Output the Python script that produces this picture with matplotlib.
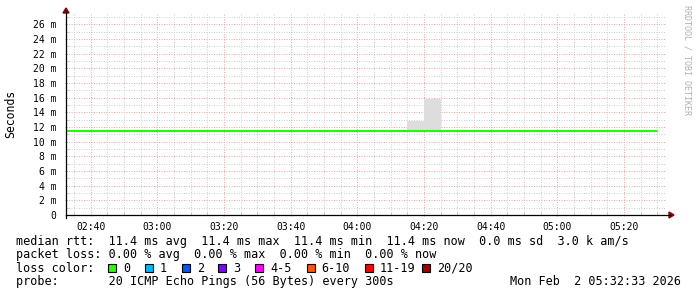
import matplotlib
matplotlib.use("Agg")
from matplotlib import pyplot as plt
from matplotlib.lines import Line2D
from matplotlib.patches import Polygon, Rectangle

# 5 minute steps (start of each step), last edge closes the final step
step_start = ["02:30", "02:35", "02:40", "02:45", "02:50", "02:55",
              "03:00", "03:05", "03:10", "03:15", "03:20", "03:25",
              "03:30", "03:35", "03:40", "03:45", "03:50", "03:55",
              "04:00", "04:05", "04:10", "04:15", "04:20", "04:25",
              "04:30", "04:35", "04:40", "04:45", "04:50", "04:55",
              "05:00", "05:05", "05:10", "05:15", "05:20", "05:25"]
step_end = "05:30"

# median rtt in ms
median = [11.4, 11.4, 11.4, 11.4, 11.4, 11.4,
          11.4, 11.4, 11.4, 11.4, 11.4, 11.4,
          11.4, 11.4, 11.4, 11.4, 11.4, 11.4,
          11.4, 11.4, 11.4, 11.4, 11.4, 11.4,
          11.4, 11.4, 11.4, 11.4, 11.4, 11.4,
          11.4, 11.4, 11.4, 11.4, 11.4, 11.4]
# smoke (max ping) in ms
smoke_hi = [11.4, 11.4, 11.4, 11.4, 11.4, 11.4,
            11.4, 11.4, 11.4, 11.4, 11.4, 11.4,
            11.4, 11.4, 11.4, 11.4, 11.4, 11.4,
            11.4, 11.4, 11.4, 12.76, 15.77, 11.4,
            11.4, 11.4, 11.4, 11.4, 11.4, 11.4,
            11.4, 11.4, 11.4, 11.4, 11.4, 11.4]

x_ticks = ["02:40", "03:00", "03:20", "03:40", "04:00", "04:20", "04:40", "05:00", "05:20"]
y_ticks = [0, 2, 4, 6, 8, 10, 12, 14, 16, 18, 20, 22, 24, 26]

loss_labels = ["0", "1", "2", "3", "4-5", "6-10", "11-19", "20/20"]
loss_colors = ["#26ff00", "#00b8ff", "#0059ff", "#7e00ff", "#ff00ff", "#ff5500", "#ff0000", "#a10000"]

rtt_line = "median rtt:  11.4 ms avg  11.4 ms max  11.4 ms min  11.4 ms now  0.0 ms sd  3.0 k am/s"
loss_line = "packet loss: 0.00 % avg  0.00 % max  0.00 % min  0.00 % now"
probe_line = "probe:       20 ICMP Echo Pings (56 Bytes) every 300s"
stamp = "Mon Feb  2 05:32:33 2026"

t_start = "02:32:33"
t_stop = "05:32:33"


def to_min(s):
    parts = [int(p) for p in s.split(":")]
    m = parts[0] * 60 + parts[1]
    if len(parts) > 2:
        m += parts[2] / 60
    return m


W, H = 697, 297
fig = plt.figure(figsize=(W / 100, H / 100), dpi=100)
fig.patch.set_facecolor("white")


def px(x, y):
    return (x / W, 1 - y / H)


mono = "DejaVu Sans Mono"
ymax = 27.5
ax = fig.add_axes([66 / W, (H - 215) / H, 600 / W, ymax * 7.33 / H])

edges = [to_min(s) for s in step_start] + [to_min(step_end)]
ax.stairs(smoke_hi, edges, baseline=median, fill=True, color="#dddddd", zorder=2)
ax.stairs(median, edges, baseline=None, color="#20ff00", linewidth=1.5, zorder=3)

ax.set_xlim(to_min(t_start), to_min(t_stop))
ax.set_ylim(0, ymax)

ax.set_xticks([to_min(s) for s in x_ticks])
ax.set_xticklabels(x_ticks, fontname=mono, fontsize=7)
ax.set_xticks(range(to_min("02:35"), to_min("05:35"), 5), minor=True)
ax.set_yticks(y_ticks)
ax.set_yticklabels([f"{v} m" if v else "0" for v in y_ticks], fontname=mono, fontsize=7)
ax.set_yticks(range(1, 28), minor=True)

ax.grid(which="minor", color="#d0d0d0", linestyle=(0, (1, 1.5)), linewidth=0.72, zorder=0)
ax.grid(which="major", color="#f4a8a8", linestyle=(0, (1, 1.5)), linewidth=0.72, zorder=1)
ax.set_axisbelow(True)
ax.tick_params(which="major", length=2, direction="inout", color="#f0a0a0", pad=4)
ax.tick_params(which="minor", length=2, direction="in", color="#c8c8c8")
ax.tick_params(axis="y", which="major", pad=6)

for side in ax.spines:
    ax.spines[side].set_visible(False)

# axes with arrows like rrdtool
fig.add_artist(Line2D([px(66, 215)[0], px(670, 215)[0]], [px(66, 215)[1], px(670, 215)[1]],
                      transform=fig.transFigure, color="black", linewidth=0.9))
fig.add_artist(Line2D([px(66, 218)[0], px(66, 12)[0]], [px(66, 218)[1], px(66, 12)[1]],
                      transform=fig.transFigure, color="black", linewidth=0.9))
fig.add_artist(Polygon([px(669, 212), px(674, 215), px(669, 218)], closed=True,
                       transform=fig.transFigure, color="#8b0000"))
fig.add_artist(Polygon([px(63, 13), px(66, 8), px(69, 13)], closed=True,
                       transform=fig.transFigure, color="#8b0000"))

fig.text(*px(11, 114), "Seconds", rotation=90, ha="center", va="center",
         fontname=mono, fontsize=8.3)
fig.text(*px(687, 5), "RRDTOOL / TOBI OETIKER", rotation=270, ha="center", va="top",
         fontname=mono, fontsize=6, color="#b0b0b0")

fig.text(*px(16, 241), rtt_line, ha="left", va="center", fontname=mono, fontsize=8.45)
fig.text(*px(16, 254.5), loss_line, ha="left", va="center", fontname=mono, fontsize=8.45)
fig.text(*px(16, 268), "loss color:", ha="left", va="center", fontname=mono, fontsize=8.45)
fig.text(*px(16, 281.5), probe_line, ha="left", va="center", fontname=mono, fontsize=8.45)
fig.text(*px(681, 281.5), stamp, ha="right", va="center", fontname=mono, fontsize=8.45)

box_x = [108.3, 145, 181.7, 218.3, 255, 306.7, 365, 421.7]
for bx, lab, col in zip(box_x, loss_labels, loss_colors):
    x0, y0 = px(bx, 272)
    fig.add_artist(Rectangle((x0, y0), 8 / W, 8 / H, transform=fig.transFigure,
                             facecolor=col, edgecolor="black", linewidth=0.8))
    fig.text(*px(bx + 15, 268), lab, ha="left", va="center", fontname=mono, fontsize=8.45)

fig.savefig("out.png", dpi=100, facecolor="white")
